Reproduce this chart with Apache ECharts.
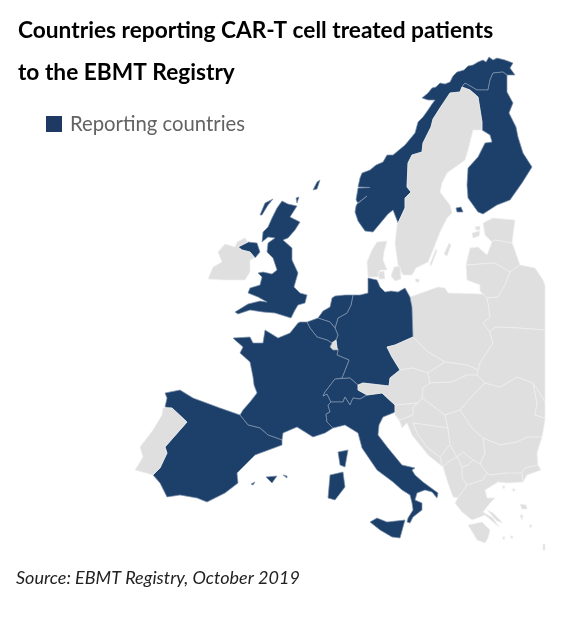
<!DOCTYPE html>
<html>
<head>
<meta charset="utf-8">
<title>Countries reporting CAR-T cell treated patients</title>
<script src="https://cdn.jsdelivr.net/npm/echarts@6/dist/echarts.min.js"></script>
<style>
html, body { margin: 0; padding: 0; background: #fff; }
#chart { width: 568px; height: 619px; }
</style>
</head>
<body>
<div id="chart"></div>
<script>
// countries flagged as reporting, everything else on the map is background
var reportingCountries = ['Norway', 'Finland', 'United Kingdom', 'Netherlands', 'Belgium', 'Germany', 'France', 'Switzerland', 'Italy', 'Spain'];
var seriesName = 'Reporting countries';
var titleLines = ['Countries reporting CAR-T cell treated patients', 'to the EBMT Registry'];
var sourceNote = 'Source: EBMT Registry, October 2019';

// outlines in map units (x to the right, y downwards)
var norway = [[[373,232],[365,231],[358,221],[355,212],[356,206],[357,204],[367,196],[358,203],[356,200],[358,188],[370,187.5],[358,187],[360,178],[362,173],[370,170],[376,165],[383,162],[387,155],[393,155],[399,150],[405,145],[410,139],[415,133],[418,122],[423,117],[428,110],[432,104],[435,100],[428,100],[422,98],[428,93],[432,88],[436,87],[440,83],[445,84],[450,82],[453,76],[457,72],[464,70],[468,66],[473,65],[478,62],[483,60],[486,62],[489,57],[493,60],[497,58],[505,60],[513,63],[510,68],[515,75],[507,75],[503,72],[493,73],[490,80],[488,90],[477,90],[465,83],[462,87],[460,92],[450,93],[440,108],[433,119],[431,127],[423,143],[422,152],[412,155],[408,163],[407,187],[411,192],[405,198],[405,208],[398,223],[393,210],[388,214],[383,220]]];
var finland = [[[462,87],[465,83],[477,90],[488,90],[490,80],[493,73],[503,72],[507,75],[507,83],[507,92],[513,103],[509,113],[516,127],[518,137],[523,153],[532,167],[522,183],[510,200],[497,205],[483,214],[478,212],[468,198],[467,185],[468,168],[478,157],[485,143],[492,142],[490,135],[482,130],[482,122],[478,97],[470,90]],
  [[456,208],[461,207],[463,212],[457,212]]];
var sweden = [[[460,92],[462,87],[470,90],[478,97],[482,122],[482,130],[473,130],[468,150],[465,160],[447,173],[442,183],[440,192],[450,205],[452,213],[447,218],[440,232],[433,250],[428,262],[416,268],[412,275],[403,275],[398,265],[395,243],[397,225],[398,223],[405,208],[405,198],[411,192],[407,187],[408,163],[412,155],[422,152],[423,143],[431,127],[433,119],[440,108],[450,93]],
  [[449,243],[451,245],[447,256],[444,254]],
  [[436,249],[437,251],[431,266],[430,264]]];
var denmark = [[[367,262],[372,250],[377,242],[387,241],[384,252],[383,260],[387,270],[380,270],[378,277],[368,277]],
  [[378,272],[384,271],[385,279],[379,279]],
  [[394,267],[400,266],[401,279],[395,281],[391,276]],
  [[415,279],[419,279],[419,282],[416,282]]];
var estonia = [[[483,223],[493,218],[515,220],[512,243],[495,240],[492,242],[485,235]],
  [[472,233],[480,231],[479,236],[473,238]],
  [[475,227],[480,226],[480,230],[476,230]]];
var latvia = [[[492,242],[495,240],[512,243],[513,245],[520,265],[510,272],[495,263],[466,265],[470,248],[478,247],[487,255]]];
var lithuania = [[[466,265],[495,263],[510,272],[505,285],[498,297],[487,298],[480,291],[480,285],[467,280]]];
var belarus = [[[487,298],[498,297],[505,285],[510,272],[520,265],[535,268],[543,280],[545,285],[545,330],[518,328],[495,327],[490,332],[483,323],[490,317]]];
var poland = [[[410,297],[438,287],[445,288],[448,293],[483,294],[487,298],[490,317],[483,323],[490,332],[493,343],[480,363],[478,370],[467,365],[445,362],[428,352],[413,337],[412,307]]];
var germany = [[[353,295],[360,295],[368,293],[368,278],[377,280],[380,287],[385,292],[391,291],[398,292],[405,288],[410,297],[412,307],[413,337],[395,345],[387,347],[392,357],[400,370],[390,378],[389,386],[363,383],[358,385],[350,378],[335,379],[342,378],[349,360],[337,355],[338,350],[337,348],[336,340],[338,335],[335,328],[338,318],[347,313],[351,305]]];
var netherlands = [[[318,318],[323,311],[330,307],[332,298],[335,296],[345,295],[353,295],[351,305],[347,313],[338,318],[335,328],[330,322]]];
var belgium = [[[307,322],[318,318],[330,322],[335,328],[338,335],[336,340],[332,343],[327,340],[317,337],[310,328]]];
var luxembourg = [[[332,343],[336,340],[337,348],[338,350],[333,350],[330,347]]];
var unitedKingdom = [[[282,201],[288,204],[297,206],[290,217],[300,222],[295,230],[288,238],[283,240],[292,248],[292,260],[298,273],[294,287],[300,293],[307,295],[305,303],[298,305],[295,310],[291,318],[275,313],[263,312],[250,310],[238,314],[235,312],[248,304],[260,301],[267,302],[258,297],[248,293],[250,288],[260,285],[262,277],[258,273],[263,272],[272,274],[277,270],[273,258],[267,252],[268,243],[275,238],[268,237],[262,242],[263,232],[268,227],[272,218],[277,208]],
  [[238,247],[248,242],[257,243],[260,252],[255,258],[250,252],[242,250]],
  [[260,215],[265,203],[273,199],[268,205],[262,215]],
  [[296,198],[299,197],[297,203]],
  [[313,190],[317,182],[320,180],[317,189]]];
var ireland = [[[237,242],[245,238],[248,242],[238,247],[242,250],[250,252],[255,258],[250,260],[250,272],[245,280],[225,280],[208,279],[213,267],[222,262],[218,252],[225,244],[235,247]]];
var france = [[[298,323],[300,322],[307,322],[310,328],[317,337],[327,340],[332,343],[330,347],[333,350],[338,350],[337,355],[349,360],[342,378],[335,379],[325,392],[323,396],[327,394],[331,402],[328,405],[330,412],[326,414],[327,422],[333,428],[325,433],[313,437],[305,432],[297,427],[283,433],[282,440],[268,435],[260,428],[248,425],[240,415],[243,410],[250,402],[257,393],[254,385],[253,377],[250,362],[240,353],[243,347],[235,340],[233,338],[250,337],[253,343],[263,343],[265,330],[270,333],[278,338],[290,333]]];
var switzerland = [[[335,379],[350,378],[358,385],[358,390],[367,395],[360,399],[353,398],[350,405],[345,397],[343,402],[331,402],[327,394],[323,396],[325,392]]];
var italy = [[[333,428],[327,422],[326,414],[330,412],[328,405],[331,402],[343,402],[345,397],[350,405],[353,398],[360,399],[367,395],[382,393],[395,405],[395,412],[393,413],[383,417],[379,425],[378,435],[388,448],[402,465],[415,468],[412,470],[415,475],[423,482],[438,493],[437,498],[432,492],[425,490],[417,493],[415,500],[422,503],[422,510],[413,517],[410,523],[407,522],[408,518],[413,510],[412,503],[410,495],[402,490],[393,482],[377,470],[362,448],[358,433],[345,425]],
  [[370,522],[377,518],[387,522],[405,520],[400,538],[392,537],[380,530]],
  [[330,475],[343,472],[345,487],[335,500],[328,498]],
  [[338,452],[348,450],[345,467],[340,465]]];
var spain = [[[165,393],[180,390],[193,398],[220,408],[240,415],[248,425],[260,428],[268,435],[282,440],[282,445],[255,455],[237,473],[238,483],[225,493],[207,502],[197,498],[180,495],[167,497],[160,483],[153,475],[160,468],[167,453],[165,447],[187,422],[172,408],[165,407],[167,398]],
  [[266,477],[277,476],[272,483]],
  [[283,475],[287,476],[287,478]],
  [[251,484],[255,482],[253,485]]];
var portugal = [[[163,408],[172,408],[187,422],[165,447],[167,453],[160,468],[153,475],[135,470],[143,457],[140,447],[153,430],[162,415]]];
var czechia = [[[387,347],[395,345],[413,337],[428,352],[445,362],[428,373],[412,368],[400,370],[392,357]]];
var austria = [[[400,370],[412,368],[428,373],[430,383],[423,388],[422,398],[418,403],[395,405],[382,393],[367,395],[358,390],[358,385],[363,383],[389,386],[390,378]]];
var slovakia = [[[445,362],[467,365],[478,370],[477,375],[467,375],[452,382],[430,383],[428,373]]];
var hungary = [[[430,383],[452,382],[467,375],[477,375],[485,383],[473,395],[460,410],[445,415],[422,398],[423,388]]];
var slovenia = [[[395,405],[418,403],[413,407],[413,415],[400,420],[395,415],[395,412]]];
var croatia = [[[418,403],[422,398],[445,415],[448,428],[413,423],[418,435],[428,448],[440,457],[443,467],[428,455],[412,435],[407,423],[402,428],[400,422],[395,415],[400,420],[413,415],[413,407]]];
var bosnia = [[[413,423],[448,428],[450,445],[447,448],[440,457],[428,448],[418,435]]];
var serbia = [[[445,415],[460,410],[472,428],[483,438],[485,453],[480,464],[473,460],[463,452],[457,457],[450,445],[448,428]]];
var montenegro = [[[440,457],[447,448],[450,445],[457,457],[448,462],[443,467]]];
var kosovo = [[[457,457],[463,452],[473,460],[468,465],[462,467]]];
var northMacedonia = [[[462,467],[468,465],[473,460],[480,464],[487,473],[483,480],[467,485],[462,478]]];
var albania = [[[448,462],[457,457],[462,467],[462,478],[467,485],[458,498],[453,497],[448,483],[443,467]]];
var romania = [[[485,383],[500,387],[517,377],[533,383],[537,403],[535,415],[545,418],[545,420],[542,437],[527,437],[517,442],[500,445],[483,438],[472,428],[460,410],[473,395]]];
var moldova = [[[533,383],[543,398],[545,402],[545,418],[535,415],[537,403]]];
var ukraine = [[[490,332],[495,327],[518,328],[545,330],[545,402],[543,398],[533,383],[517,377],[500,387],[485,383],[477,375],[478,370],[480,363],[493,343]]];
var bulgaria = [[[483,438],[500,445],[517,442],[527,437],[542,437],[537,453],[538,465],[525,468],[520,475],[507,473],[490,475],[487,473],[480,464],[485,453]]];
var turkey = [[[525,468],[538,465],[541,470],[527,475],[523,482],[522,473],[520,475]]];
var greece = [[[458,498],[467,485],[483,480],[487,473],[490,475],[507,473],[522,473],[523,482],[507,483],[498,482],[485,490],[487,498],[495,498],[490,503],[483,512],[493,518],[499,527],[485,515],[472,520],[462,512],[455,503]],
  [[468,525],[482,522],[490,530],[488,538],[485,543],[477,540],[473,533]],
  [[520,504],[526,505],[527,509],[522,509]],
  [[520,515],[523,515],[522,520]],
  [[487,510],[493,513],[503,523],[497,521]],
  [[502,486],[505,486],[504,489]],
  [[512,489],[515,489],[514,492]],
  [[510,536],[513,536],[512,539]],
  [[502,537],[505,537],[504,540]],
  [[529,525],[532,525],[531,528]],
  [[543,544],[545,544],[545,550],[543,550]]];

var countryOutlines = {
  'Norway': norway, 'Finland': finland, 'Sweden': sweden, 'Denmark': denmark, 'Estonia': estonia, 'Latvia': latvia,
  'Lithuania': lithuania, 'Belarus': belarus, 'Poland': poland, 'Germany': germany, 'Netherlands': netherlands,
  'Belgium': belgium, 'Luxembourg': luxembourg, 'United Kingdom': unitedKingdom, 'Ireland': ireland, 'France': france,
  'Switzerland': switzerland, 'Italy': italy, 'Spain': spain, 'Portugal': portugal, 'Czechia': czechia, 'Austria': austria,
  'Slovakia': slovakia, 'Hungary': hungary, 'Slovenia': slovenia, 'Croatia': croatia, 'Bosnia': bosnia, 'Serbia': serbia,
  'Montenegro': montenegro, 'Kosovo': kosovo, 'North Macedonia': northMacedonia, 'Albania': albania, 'Romania': romania,
  'Moldova': moldova, 'Ukraine': ukraine, 'Bulgaria': bulgaria, 'Turkey': turkey, 'Greece': greece
};

function build_geojson() {
  var features = [];
  for (var name in countryOutlines) {
    var polys = countryOutlines[name].map(function (ring) {
      // geojson y grows upwards
      return [ring.map(function (p) { return [p[0], -p[1]]; })];
    });
    features.push({
      type: 'Feature',
      properties: { name: name },
      geometry: { type: 'MultiPolygon', coordinates: polys }
    });
  }
  return { type: 'FeatureCollection', features: features };
}

function cal_option() {
  var data = Object.keys(countryOutlines).map(function (name) {
    var reporting = reportingCountries.indexOf(name) >= 0;
    return {
      name: name,
      value: reporting ? 1 : 0,
      itemStyle: { borderColor: reporting ? '#7f94ad' : '#efefef' }
    };
  });

  return {
    animation: false,
    backgroundColor: '#fff',
    title: [
      { text: titleLines[0], left: 13, top: 14, textStyle: { fontFamily: 'Lato', fontSize: 22.7, fontWeight: 'bold', color: '#000' } },
      { text: titleLines[1], left: 13, top: 56, textStyle: { fontFamily: 'Lato', fontSize: 22.7, fontWeight: 'bold', color: '#000' } },
      { text: sourceNote, left: 11, top: 564, textStyle: { fontFamily: 'Lato', fontSize: 18, fontWeight: 'normal', fontStyle: 'italic', color: '#222' } }
    ],
    legend: {
      left: 46, top: 114, padding: 0,
      itemWidth: 16, itemHeight: 16, itemGap: 0,
      selectedMode: false,
      data: [{ name: seriesName, icon: 'rect', itemStyle: { color: '#1f3a62', borderWidth: 0 } }],
      textStyle: { fontFamily: 'Lato', fontSize: 20.3, color: '#636363', padding: [0, 0, 0, 3] }
    },
    visualMap: {
      show: false,
      type: 'piecewise',
      seriesIndex: 0,
      pieces: [
        { value: 1, color: '#1d406b' },
        { value: 0, color: '#dfdfdf' }
      ]
    },
    series: [{
      name: seriesName,
      type: 'map',
      map: 'europe',
      silent: true,
      selectedMode: false,
      roam: false,
      showLegendSymbol: false,
      aspectScale: 1,
      boundingCoords: [[0, 0], [568, -619]],
      left: 0, top: 0, width: 568, height: 619,
      label: { show: false },
      emphasis: { disabled: true },
      itemStyle: { borderWidth: 0.7 },
      data: data
    }]
  };
}

function draw_charts() {
  echarts.registerMap('europe', build_geojson());
  var myChart = echarts.init(document.getElementById('chart'));
  myChart.setOption(cal_option());
}

draw_charts();
</script>
</body>
</html>
